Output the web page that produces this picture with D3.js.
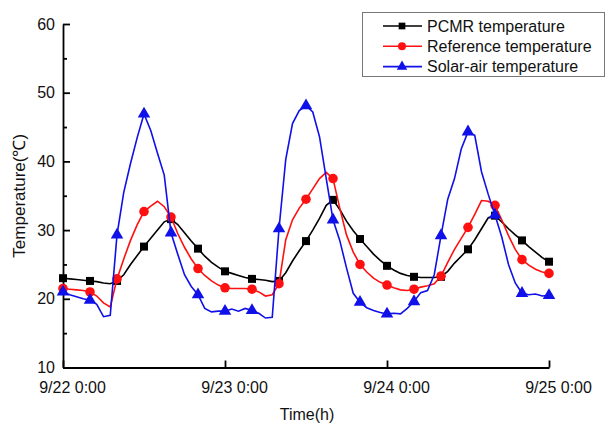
<!DOCTYPE html>
<html>
<head>
<meta charset="utf-8">
<script src="https://cdn.jsdelivr.net/npm/d3@7"></script>
<style>
  body { margin: 0; background: #fff; }
  text { font-family: "Liberation Sans", Arial, sans-serif; }
</style>
</head>
<body>
<div id="chart"></div>
<script>
// hours since 9/22 0:00, one reading per hour
const hours = d3.range(0, 73)

const pcmr = [23.0, 22.9, 22.8, 22.7, 22.6, 22.5, 22.3, 22.2, 22.6, 23.5, 25.0, 26.3, 27.6, 28.8, 30.0, 31.2, 31.6, 30.8, 29.6, 28.4,
  27.3, 26.2, 25.3, 24.6, 24.0, 23.7, 23.4, 23.1, 22.9, 22.8, 22.7, 22.5, 22.6, 23.8, 25.5, 27.0, 28.4, 30.0, 31.7, 33.6,
  34.4, 33.0, 31.3, 29.9, 28.7, 27.6, 26.5, 25.6, 24.8, 24.2, 23.7, 23.4, 23.2, 23.1, 23.1, 23.1, 23.2, 24.0, 25.2, 26.2,
  27.2, 28.6, 30.2, 31.8, 32.1, 31.2, 30.2, 29.3, 28.5, 27.6, 26.8, 26.0, 25.4]

const reference = [21.5, 21.4, 21.3, 21.2, 21.0, 20.4, 19.4, 18.8, 22.9, 25.8, 28.5, 30.8, 32.7, 33.5, 34.2, 33.4, 31.9, 29.5, 27.5, 25.8,
  24.4, 23.4, 22.6, 22.0, 21.6, 21.5, 21.5, 21.5, 21.4, 21.0, 20.4, 20.6, 22.2, 28.6, 31.5, 33.2, 34.5, 36.0, 37.5, 38.4,
  37.5, 33.2, 29.3, 26.8, 25.0, 23.9, 23.0, 22.4, 22.0, 21.6, 21.3, 21.2, 21.4, 21.7, 21.9, 22.2, 23.3, 25.3, 27.2, 28.8,
  30.4, 32.3, 34.3, 34.2, 33.6, 31.5, 29.2, 27.2, 25.7, 24.9, 24.3, 23.9, 23.7]

const solarAir = [21.0, 20.6, 20.3, 20.0, 19.8, 19.2, 17.4, 17.6, 29.3, 35.5, 39.7, 43.5, 46.9, 44.5, 41.2, 38.0, 29.6, 26.5, 23.5, 21.8,
  20.6, 18.6, 18.1, 18.2, 18.2, 18.5, 18.2, 18.6, 18.3, 17.9, 17.2, 17.3, 30.2, 40.3, 45.5, 47.4, 48.1, 47.2, 43.6, 37.5,
  31.5, 28.5, 24.5, 20.8, 19.5, 18.7, 18.3, 18.0, 17.8, 17.9, 17.8, 18.6, 19.6, 20.9, 21.2, 23.5, 29.2, 34.5, 37.5, 41.8,
  44.3, 43.8, 38.5, 35.2, 32.2, 29.0, 25.0, 22.3, 20.8, 20.6, 20.7, 20.4, 20.5]

const seriesNames = ["PCMR temperature", "Reference temperature", "Solar-air temperature"]
const xTicks = [0, 24, 48, 72]
const xTickLabels = ["9/22 0:00", "9/23 0:00", "9/24 0:00", "9/25 0:00"]
const yTicks = [10, 20, 30, 40, 50, 60]
const yMinorTicks = [15, 25, 35, 45, 55]

const width = 610
const height = 423
const margin = { top: 24, right: 61, bottom: 55.5, left: 63 }

const svg = d3.select("#chart").append("svg")
  .attr("width", width)
  .attr("height", height)

const x = d3.scaleLinear()
  .domain([0, 72])
  .range([margin.left, width - margin.right])

const y = d3.scaleLinear()
  .domain([10, 60])
  .range([height - margin.bottom, margin.top])

// series styling
const series = [
  { name: seriesNames[0], values: pcmr, color: "#000000", marker: d3.symbolSquare, size: 64 },
  { name: seriesNames[1], values: reference, color: "#ff1010", marker: d3.symbolCircle, size: 72 },
  { name: seriesNames[2], values: solarAir, color: "#1010e8", marker: d3.symbolTriangle, size: 68 },
]

const line = d3.line()
  .x((d, i) => x(hours[i]))
  .y(d => y(d))

// axes first, lines on top
svg.append("g")
  .attr("transform", `translate(${margin.left},0)`)
  .call(d3.axisLeft(y).tickValues(yTicks).tickSizeInner(-7).tickSizeOuter(0).tickPadding(8))
svg.append("g")
  .attr("transform", `translate(${margin.left},0)`)
  .call(d3.axisLeft(y).tickValues(yMinorTicks).tickSizeInner(-4).tickSizeOuter(0).tickFormat(""))
  .select(".domain").remove()

const xAxis = svg.append("g")
  .attr("transform", `translate(0,${height - margin.bottom})`)
  .call(d3.axisBottom(x).tickValues(xTicks).tickSizeInner(-7).tickSizeOuter(0)
    .tickFormat((d, i) => xTickLabels[i]))

xAxis.selectAll("text").attr("y", 14).attr("dx", 9)

svg.selectAll(".domain, .tick line").attr("stroke", "#000").attr("stroke-width", 1.8)
svg.selectAll(".tick text").attr("fill", "#111").style("font-size", "16px")

svg.append("text")
  .attr("transform", `translate(25,${(margin.top + height - margin.bottom) / 2}) rotate(-90)`)
  .attr("text-anchor", "middle")
  .style("font-size", "17px")
  .attr("fill", "#111")
  .text("Temperature(℃)")

svg.append("text")
  .attr("x", 307)
  .attr("y", 420)
  .attr("text-anchor", "middle")
  .style("font-size", "16px")
  .attr("fill", "#111")
  .text("Time(h)")

// draw each series: thin line + marker every 4 hours
series.forEach(s => {
  svg.append("path")
    .datum(s.values)
    .attr("fill", "none")
    .attr("stroke", s.color)
    .attr("stroke-width", 1.6)
    .attr("d", line)

  svg.append("g")
    .selectAll("path")
    .data(s.values.filter((d, i) => i % 4 === 0))
    .join("path")
    .attr("transform", (d, i) => `translate(${x(i * 4)},${y(d)})`)
    .attr("d", d3.symbol(s.marker, s.size))
    .attr("fill", s.color)
})

// legend
const legend = svg.append("g")
legend.append("rect")
  .attr("x", 362.5).attr("y", 12.5)
  .attr("width", 242).attr("height", 64)
  .attr("fill", "#fff")
  .attr("stroke", "#777")
  .attr("stroke-width", 1)

series.forEach((s, i) => {
  const ly = 26 + i * 20.3
  legend.append("line")
    .attr("x1", 383).attr("x2", 422)
    .attr("y1", ly).attr("y2", ly)
    .attr("stroke", s.color)
    .attr("stroke-width", 1.6)
  legend.append("path")
    .attr("transform", `translate(402,${ly})`)
    .attr("d", d3.symbol(s.marker, s.size * 0.7))
    .attr("fill", s.color)
  legend.append("text")
    .attr("x", 427)
    .attr("y", ly)
    .attr("dy", "0.35em")
    .style("font-size", "16px")
    .attr("fill", "#111")
    .text(s.name)
})
</script>
</body>
</html>
